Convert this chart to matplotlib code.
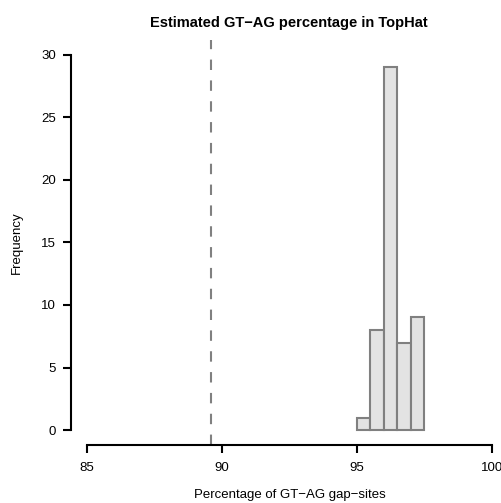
import matplotlib
matplotlib.use("Agg")
import matplotlib.pyplot as plt

plt.rcParams['font.family'] = ['Liberation Sans', 'DejaVu Sans']

# histogram data (bin edges and counts)
bin_edges = [95.0, 95.5, 96.0, 96.5, 97.0, 97.5]
counts = [1, 8, 29, 7, 9]
cutoff = 89.6  # dashed reference line

x_ticks = [85, 90, 95, 100]
y_ticks = [0, 5, 10, 15, 20, 25, 30]

fig = plt.figure(figsize=(5.01, 5.03), dpi=100)
ax = fig.add_axes([0.1413, 0.1153, 0.873, 0.8052])

widths = [b - a for a, b in zip(bin_edges[:-1], bin_edges[1:])]
ax.bar(bin_edges[:-1], counts, width=widths, align='edge',
       color='#e3e3e3', edgecolor='#808080', linewidth=1.5, zorder=2)

ax.axvline(cutoff, color='#808080', linewidth=1.5, dashes=(5, 5), zorder=1)

ax.set_xlim(84.4, 100.6)
ax.set_ylim(-1.2, 31.2)

for s in ['top', 'right']:
    ax.spines[s].set_visible(False)
ax.spines['left'].set_bounds(0, 30)
ax.spines['bottom'].set_bounds(85, 100)
ax.spines['left'].set_linewidth(1.5)
ax.spines['bottom'].set_linewidth(1.5)

ax.set_xticks(x_ticks)
ax.set_yticks(y_ticks)
ax.tick_params(axis='both', width=1.5, length=5.5, labelsize=9.5, color='black')
ax.tick_params(axis='x', pad=6.5)
ax.tick_params(axis='y', pad=5)

ax.set_xlabel("Percentage of GT\u2212AG gap\u2212sites", fontsize=9.5, labelpad=11)
ax.set_ylabel("Frequency", fontsize=9.5, labelpad=13)
ax.set_title("Estimated GT\u2212AG percentage in TopHat", fontsize=10.5,
             fontweight='bold', pad=9, x=(289 - 70.8) / 437.4)

fig.savefig("out.png", dpi=100)
